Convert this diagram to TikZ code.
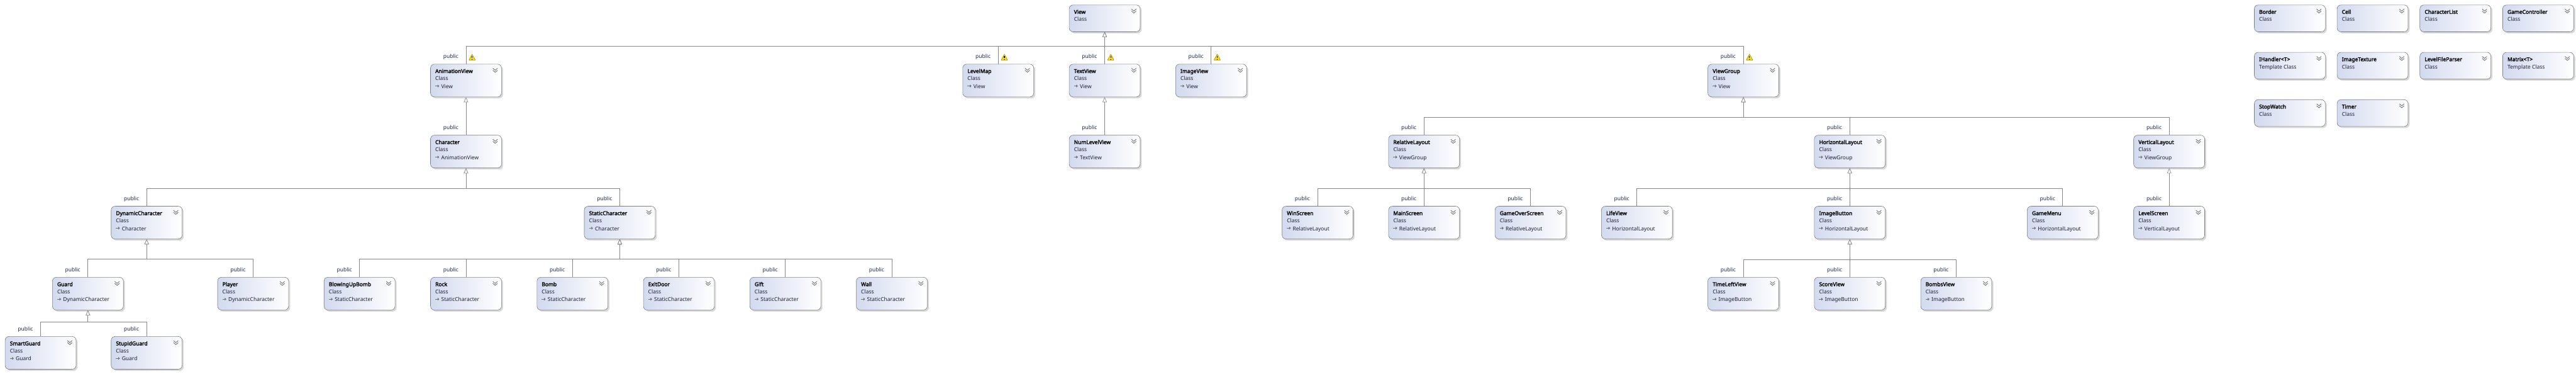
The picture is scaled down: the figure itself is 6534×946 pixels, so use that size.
\documentclass[tikz,border=0pt]{standalone}
\usepackage{fontspec}
\setmainfont{Noto Sans}[AutoFakeBold=2.5]
\usetikzlibrary{shadows,arrows.meta,calc}
\definecolor{clsL}{RGB}{210,218,239}
\definecolor{clsB}{RGB}{128,128,128}
\definecolor{lineC}{RGB}{135,135,135}
\definecolor{pubC}{RGB}{28,42,88}
\definecolor{subC}{RGB}{30,30,50}
\definecolor{warnY}{RGB}{250,222,20}
\definecolor{warnD}{RGB}{150,120,0}
\tikzset{
  clsbox/.style={draw=clsB, line width=1pt, rounded corners=10pt, left color=clsL, right color=white,
    minimum width=180pt, inner sep=0pt,
    drop shadow={shadow xshift=4pt, shadow yshift=-4pt, opacity=1, fill=black!15}},
  ttl/.style={font=\fontsize{13.5}{16}\selectfont\bfseries, text=black, inner sep=0pt, anchor=base west},
  subtxt/.style={font=\fontsize{13.5}{16}\selectfont, text=subC, inner sep=0pt, anchor=base west},
  pub/.style={font=\fontsize{13.5}{16}\selectfont, text=pubC, inner sep=0pt, anchor=base east},
  chev/.style={draw=black!55, line width=1.4pt},
  baseicon/.style={draw=black!55, line width=1.8pt, -{Triangle[length=4pt,width=7pt]}},
  inh/.style={draw=lineC, line width=1.2pt, -{Triangle[length=13pt,width=11pt,fill=white,line width=1pt]}},
  warnicon/.pic={
    \filldraw[fill=warnY, draw=warnD, line width=0.8pt, rounded corners=1.5pt] (8.5,0) -- (17,16) -- (0,16) -- cycle;
    \draw[line width=2pt] (8.5,5) -- (8.5,10.5);
    \fill (8.5,13.4) circle (1.2pt);
  }
}
% class with base: name, cx, top, title, parent
\newcommand\clsD[5]{%
  \node[clsbox, minimum height=83pt, anchor=north] (#1) at (#2,#3) {};
  \node[ttl] (#1-n) at (#2-78,#3+23) {#4};
  \node[subtxt] (#1-k) at (#2-78,#3+42) {Class};
  \draw[baseicon] (#2-78,#3+56) -- ++(10,0);
  \node[subtxt] (#1-p) at (#2-63,#3+62) {#5};
  \draw[chev] (#2+68,#3+11) -- ++(6,5) -- ++(6,-5) (#2+68,#3+16) -- ++(6,5) -- ++(6,-5);
}
% class without base: name, cx, top, title, kind
\newcommand\clsS[5]{%
  \node[clsbox, minimum height=68pt, anchor=north] (#1) at (#2,#3) {};
  \node[ttl] (#1-n) at (#2-78,#3+23) {#4};
  \node[subtxt] (#1-k) at (#2-78,#3+42) {#5};
  \draw[chev] (#2+68,#3+11) -- ++(6,5) -- ++(6,-5) (#2+68,#3+16) -- ++(6,5) -- ++(6,-5);
}
% connector via bus: child, bus, parent
\newcommand\conn[3]{%
  \draw[inh] (#1.north) |- (#2) -- (#3.south);
  \node[pub] (#1-lbl) at ($(#1.north)+(-19,-14)$) {public};
}
% direct connector: child, parent
\newcommand\connd[2]{%
  \draw[inh] (#1.north) -- (#2.south);
  \node[pub] (#1-lbl) at ($(#1.north)+(-19,-14)$) {public};
}
\begin{document}
\begin{tikzpicture}[x=1pt,y=-1pt]
\fill[white] (0,0) rectangle (6534,946);
\useasboundingbox (0,0) rectangle (6534,946);

% standalone / root classes
\clsS{View}{2802}{12}{View}{Class}
\clsS{Border}{5808}{12}{Border}{Class}
\clsS{Cell}{6018}{12}{Cell}{Class}
\clsS{CharacterList}{6228}{12}{CharacterList}{Class}
\clsS{GameController}{6438}{12}{GameController}{Class}
\clsS{IHandler}{5808}{132}{IHandler<T>}{Template Class}
\clsS{ImageTexture}{6018}{132}{ImageTexture}{Class}
\clsS{LevelFileParser}{6228}{132}{LevelFileParser}{Class}
\clsS{Matrix}{6438}{132}{Matrix<T>}{Template Class}
\clsS{StopWatch}{5808}{252}{StopWatch}{Class}
\clsS{Timer}{6018}{252}{Timer}{Class}

% row 1
\clsD{AnimationView}{1182}{162}{AnimationView}{View}
\clsD{LevelMap}{2532}{162}{LevelMap}{View}
\clsD{TextView}{2802}{162}{TextView}{View}
\clsD{ImageView}{3072}{162}{ImageView}{View}
\clsD{ViewGroup}{4422}{162}{ViewGroup}{View}
% row 2
\clsD{Character}{1182}{342}{Character}{AnimationView}
\clsD{NumLevelView}{2802}{342}{NumLevelView}{TextView}
\clsD{RelativeLayout}{3612}{342}{RelativeLayout}{ViewGroup}
\clsD{HorizontalLayout}{4692}{342}{HorizontalLayout}{ViewGroup}
\clsD{VerticalLayout}{5502}{342}{VerticalLayout}{ViewGroup}
% row 3
\clsD{DynamicCharacter}{372}{522}{DynamicCharacter}{Character}
\clsD{StaticCharacter}{1572}{522}{StaticCharacter}{Character}
\clsD{WinScreen}{3342}{522}{WinScreen}{RelativeLayout}
\clsD{MainScreen}{3612}{522}{MainScreen}{RelativeLayout}
\clsD{GameOverScreen}{3882}{522}{GameOverScreen}{RelativeLayout}
\clsD{LifeView}{4152}{522}{LifeView}{HorizontalLayout}
\clsD{ImageButton}{4692}{522}{ImageButton}{HorizontalLayout}
\clsD{GameMenu}{5232}{522}{GameMenu}{HorizontalLayout}
\clsD{LevelScreen}{5502}{522}{LevelScreen}{VerticalLayout}
% row 4
\clsD{Guard}{223}{702}{Guard}{DynamicCharacter}
\clsD{Player}{642}{702}{Player}{DynamicCharacter}
\clsD{BlowingUpBomb}{912}{702}{BlowingUpBomb}{StaticCharacter}
\clsD{Rock}{1182}{702}{Rock}{StaticCharacter}
\clsD{Bomb}{1452}{702}{Bomb}{StaticCharacter}
\clsD{ExitDoor}{1722}{702}{ExitDoor}{StaticCharacter}
\clsD{Gift}{1992}{702}{Gift}{StaticCharacter}
\clsD{Wall}{2262}{702}{Wall}{StaticCharacter}
\clsD{TimeLeftView}{4422}{702}{TimeLeftView}{ImageButton}
\clsD{ScoreView}{4692}{702}{ScoreView}{ImageButton}
\clsD{BombsView}{4962}{702}{BombsView}{ImageButton}
% row 5
\clsD{SmartGuard}{103}{852}{SmartGuard}{Guard}
\clsD{StupidGuard}{372}{852}{StupidGuard}{Guard}

% bus points
\coordinate (bView) at (2802,117);
\coordinate (bChar) at (1182,477);
\coordinate (bDyn) at (372,657);
\coordinate (bStat) at (1572,657);
\coordinate (bGuard) at (223,816);
\coordinate (bVG) at (4422,297);
\coordinate (bRel) at (3612,478);
\coordinate (bHor) at (4692,478);
\coordinate (bImg) at (4692,658);

% connectors
\conn{AnimationView}{bView}{View}
\conn{LevelMap}{bView}{View}
\conn{TextView}{bView}{View}
\conn{ImageView}{bView}{View}
\conn{ViewGroup}{bView}{View}
\connd{Character}{AnimationView}
\connd{NumLevelView}{TextView}
\conn{RelativeLayout}{bVG}{ViewGroup}
\conn{HorizontalLayout}{bVG}{ViewGroup}
\conn{VerticalLayout}{bVG}{ViewGroup}
\conn{DynamicCharacter}{bChar}{Character}
\conn{StaticCharacter}{bChar}{Character}
\conn{WinScreen}{bRel}{RelativeLayout}
\conn{MainScreen}{bRel}{RelativeLayout}
\conn{GameOverScreen}{bRel}{RelativeLayout}
\conn{LifeView}{bHor}{HorizontalLayout}
\conn{ImageButton}{bHor}{HorizontalLayout}
\conn{GameMenu}{bHor}{HorizontalLayout}
\connd{LevelScreen}{VerticalLayout}
\conn{Guard}{bDyn}{DynamicCharacter}
\conn{Player}{bDyn}{DynamicCharacter}
\conn{BlowingUpBomb}{bStat}{StaticCharacter}
\conn{Rock}{bStat}{StaticCharacter}
\conn{Bomb}{bStat}{StaticCharacter}
\conn{ExitDoor}{bStat}{StaticCharacter}
\conn{Gift}{bStat}{StaticCharacter}
\conn{Wall}{bStat}{StaticCharacter}
\conn{TimeLeftView}{bImg}{ImageButton}
\conn{ScoreView}{bImg}{ImageButton}
\conn{BombsView}{bImg}{ImageButton}
\conn{SmartGuard}{bGuard}{Guard}
\conn{StupidGuard}{bGuard}{Guard}

% warning icons
\pic at (1189,137) {warnicon};
\pic at (2539,137) {warnicon};
\pic at (2809,137) {warnicon};
\pic at (3079,137) {warnicon};
\pic at (4429,137) {warnicon};
\end{tikzpicture}
\end{document}
